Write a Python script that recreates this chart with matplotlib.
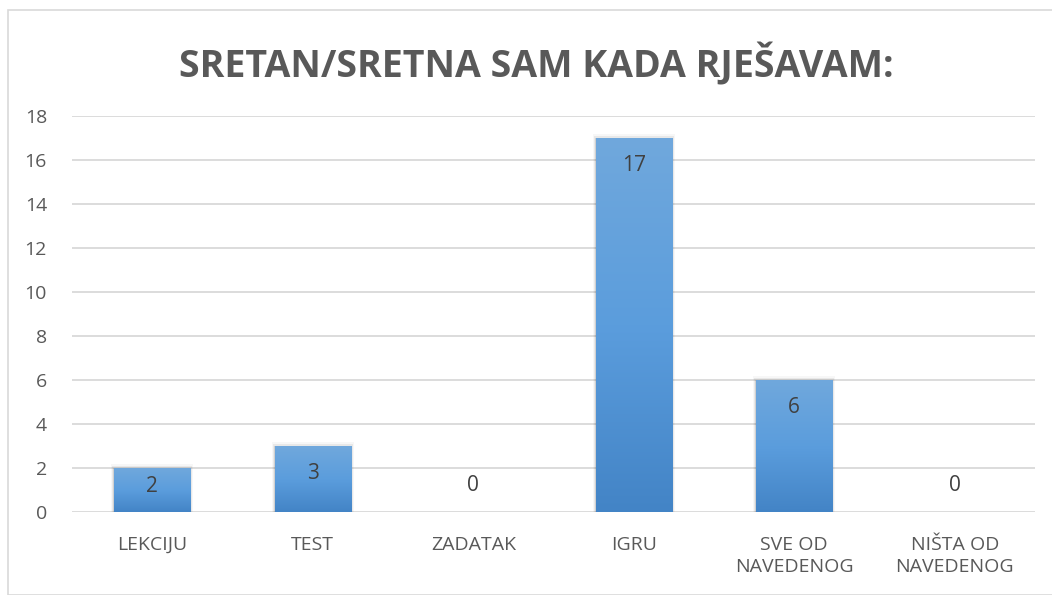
import numpy as np
import matplotlib
matplotlib.use("Agg")
from matplotlib import pyplot as plt
from matplotlib.patches import Rectangle
from matplotlib.colors import LinearSegmentedColormap

kategorije = ["LEKCIJU", "TEST", "ZADATAK", "IGRU", "SVE OD\nNAVEDENOG", "NIŠTA OD\nNAVEDENOG"]
odgovori = [2, 3, 0, 17, 6, 0]
y_ticks = [0, 2, 4, 6, 8, 10, 12, 14, 16, 18]
naslov = "SRETAN/SRETNA SAM KADA RJEŠAVAM:"

plt.rcParams['font.family'] = ['Open Sans', 'DejaVu Sans']
siva = "#595959"

fig = plt.figure(figsize=(10.52, 5.95), dpi=100)
W, H = 1052, 595

# okvir grafikona
fig.patches.append(Rectangle((8 / W, 0), 1, 1 - 10 / H, transform=fig.transFigure,
                             fill=False, edgecolor="#d9d9d9", linewidth=1.2))

ax = fig.add_axes([72 / W, (H - 512) / H, (1035 - 72) / W, (512 - 116) / H])
ax.set_xlim(-0.5, len(kategorije) - 0.5)
ax.set_ylim(0, 18)
ax.set_yticks(y_ticks)
ax.set_xticks(range(len(kategorije)))
ax.set_xticklabels(kategorije, fontsize=14, color=siva, linespacing=1.3)
ax.tick_params(axis='y', labelsize=14, labelcolor=siva, length=0, pad=18)
ax.tick_params(axis='x', length=0, pad=17)
for s in ax.spines.values():
    s.set_visible(False)
ax.grid(axis='y', color="#d9d9d9", linewidth=1.3)
ax.set_axisbelow(True)

gradijent = LinearSegmentedColormap.from_list("plava", ["#4384c6", "#5b9ddd", "#70a8dc"])
sirina = 0.475
for i, v in enumerate(odgovori):
    x0 = i - sirina / 2
    if v > 0:
        # sjena ispod stupca
        for k, a in enumerate([0.10, 0.06, 0.03]):
            d = (k + 1) * 0.012
            ax.add_patch(Rectangle((x0 - d * 0.5, -0.05), sirina + d, v + d * 6,
                                   facecolor="black", alpha=a, edgecolor="none", zorder=2))
        stupac = Rectangle((x0, 0), sirina, v, facecolor="none", edgecolor="none", zorder=3)
        ax.add_patch(stupac)
        img = ax.imshow(np.linspace(0, 1, 256).reshape(-1, 1), cmap=gradijent,
                        extent=(x0, x0 + sirina, 0, v), origin='lower',
                        aspect='auto', zorder=3)
        img.set_clip_path(stupac)
        y_lab = max(v - 1.23, v / 2 + 0.15)
        ax.text(i, y_lab, str(v), ha='center', va='center', fontsize=15, color="#404040", zorder=4)
    else:
        ax.text(i, 1.2, str(v), ha='center', va='center', fontsize=15, color="#404040", zorder=4)

ax.set_xlim(-0.5, len(kategorije) - 0.5)
ax.set_ylim(0, 18)

fig.text(536 / W, 1 - 65 / H, naslov, ha='center', va='center', fontsize=27,
         fontweight='bold', color=siva)

fig.savefig("out.png", dpi=100)
